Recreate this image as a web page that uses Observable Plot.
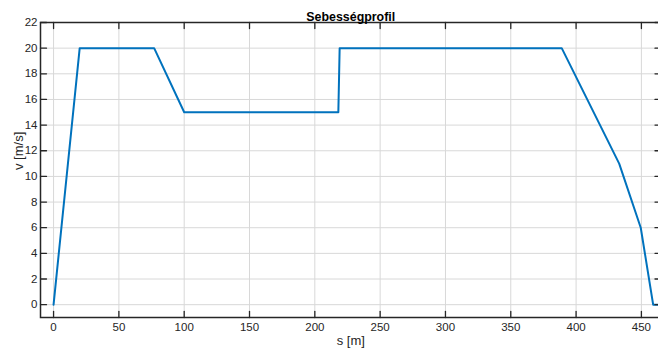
<!DOCTYPE html>
<html><head><meta charset="utf-8">
<script src="https://cdn.jsdelivr.net/npm/d3@7"></script>
<script src="https://cdn.jsdelivr.net/npm/@observablehq/plot@0.6"></script>
<style>
html,body{margin:0;padding:0;background:#fff;overflow:hidden}
#wrap{width:658px;height:352px;overflow:hidden}
#wrap svg{max-width:none !important}
</style></head><body><div id="wrap"></div>
<script>
const title = "Sebességprofil";
const xLabel = "s [m]";
const yLabel = "v [m/s]";
const s = [0, 20, 77, 100, 218, 219, 389, 433, 449.5, 459, 465];
const v = [0, 20, 20, 15, 15, 20, 20, 11, 6, 0, 0];
const xTicks = [0, 50, 100, 150, 200, 250, 300, 350, 400, 450];
const yTicks = [0, 2, 4, 6, 8, 10, 12, 14, 16, 18, 20, 22];

const data = s.map((d, i) => ({s: d, v: v[i]}));
const ink = "#262626";
const tickShape = {draw(ctx, l) { ctx.moveTo(0, 0); ctx.lineTo(0, -l); }};
const tickOpts = {length: 6, anchor: "start", shape: tickShape, stroke: ink, strokeWidth: 1.3};

const chart = Plot.plot({
  width: 662, height: 352,
  marginLeft: 40, marginRight: 1.5, marginTop: 22, marginBottom: 35,
  style: {fontFamily: "'Liberation Sans', Arial, sans-serif", fontSize: "11.5px", color: ink, background: "#fff", overflow: "visible", maxWidth: "none"},
  x: {domain: [-10, 465], label: null},
  y: {domain: [-1, 22], label: null},
  marks: [
    Plot.gridX(xTicks, {stroke: "#d8d8d8", strokeOpacity: 1, strokeWidth: 1}),
    Plot.gridY(yTicks, {stroke: "#d8d8d8", strokeOpacity: 1, strokeWidth: 1}),
    Plot.axisX(xTicks, {tickSize: 0, tickPadding: 5, fill: ink, tickFormat: d => d, label: null}),
    Plot.axisY(yTicks, {tickSize: 0, tickPadding: 3, fill: ink, tickFormat: d => d, label: null}),
    Plot.line(data, {x: "s", y: "v", stroke: "#0072BD", strokeWidth: 2}),
    Plot.vector(xTicks, {x: d => d, frameAnchor: "bottom", rotate: 0, ...tickOpts}),
    Plot.vector(xTicks, {x: d => d, frameAnchor: "top", rotate: 180, ...tickOpts}),
    Plot.vector(yTicks, {y: d => d, frameAnchor: "left", rotate: 90, ...tickOpts}),
    Plot.vector(yTicks, {y: d => d, frameAnchor: "right", rotate: -90, ...tickOpts}),
    Plot.frame({stroke: ink, strokeWidth: 1.5}),
    Plot.text([title], {text: d => d, frameAnchor: "top", dy: -10, fontWeight: "bold", fontSize: 12.4, fill: "#000"}),
    Plot.text([xLabel], {text: d => d, frameAnchor: "bottom", dy: 27, fontSize: 13, fill: ink}),
    Plot.text([yLabel], {text: d => d, frameAnchor: "left", dx: -22, rotate: -90, fontSize: 13, fill: ink})
  ]
});
document.getElementById("wrap").appendChild(chart);
</script></body></html>
